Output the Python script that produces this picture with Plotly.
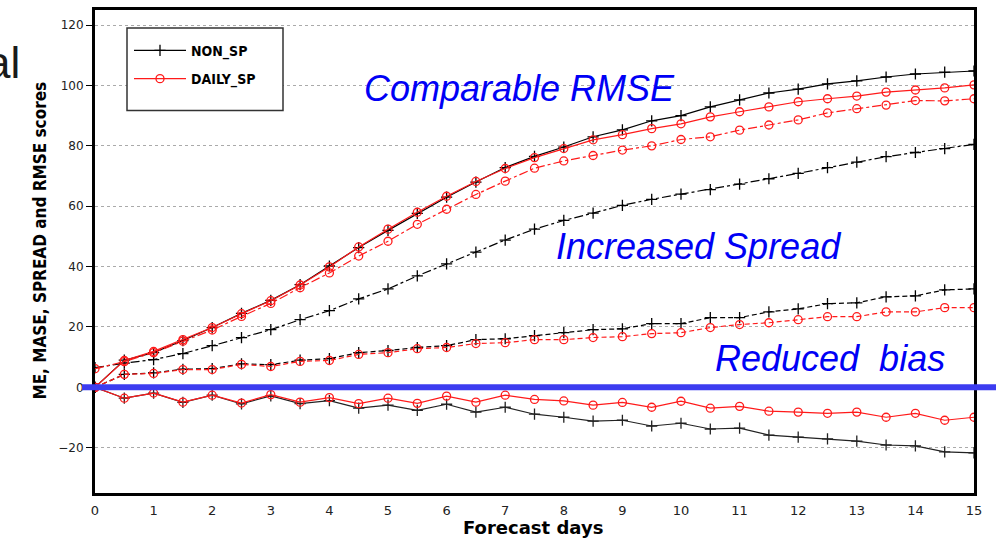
import plotly.graph_objects as go

# Forecast lead times (days)
days = [0, 0.5, 1, 1.5, 2, 2.5, 3, 3.5, 4, 4.5, 5, 5.5, 6, 6.5, 7, 7.5,
        8, 8.5, 9, 9.5, 10, 10.5, 11, 11.5, 12, 12.5, 13, 13.5, 14, 14.5, 15]

# NON_SP scores
non_rmse = [0, 9.0, 11.5, 15.5, 19.8, 24.5, 28.8, 34.0, 40.2, 46.3, 52.0, 57.6, 63.0, 68.0, 72.8, 76.5,
            79.6, 83.0, 85.3, 88.3, 90.0, 92.9, 95.2, 97.5, 98.8, 100.5, 101.5, 102.8, 103.8, 104.4, 104.8]
non_spread = [6.5, 8.0, 9.2, 11.2, 13.8, 16.5, 19.1, 22.4, 25.4, 29.3, 32.6, 36.9, 40.9, 44.8, 48.8, 52.4,
              55.3, 57.7, 60.3, 62.3, 64.0, 65.5, 67.3, 69.1, 70.9, 72.8, 74.6, 76.4, 77.8, 79.1, 80.5]
non_mase = [0, 4.3, 4.8, 6.0, 6.2, 7.8, 7.5, 9.0, 9.5, 11.5, 12.2, 13.2, 13.8, 15.8, 16.1, 17.1,
            18.1, 19.1, 19.4, 21.1, 21.1, 23.1, 23.1, 25.0, 26.0, 27.7, 28.0, 30.0, 30.3, 32.3, 32.6]
non_me = [0, -3.6, -1.9, -5.0, -2.6, -5.5, -2.8, -5.4, -4.4, -6.9, -5.9, -7.6, -5.6, -8.2, -6.6, -8.9,
          -9.9, -11.2, -10.9, -12.8, -11.9, -13.8, -13.5, -15.8, -16.5, -17.1, -17.8, -19.1, -19.4, -21.4, -21.7]

# DAILY_SP scores
daily_rmse = [0, 8.9, 11.9, 15.8, 19.8, 24.4, 28.7, 33.9, 39.9, 46.5, 52.4, 58.0, 63.3, 68.2, 72.5, 76.1,
              79.1, 82.0, 83.7, 85.7, 87.3, 89.6, 91.3, 92.9, 94.6, 95.6, 96.5, 97.8, 98.5, 99.2, 100.2]
daily_spread = [6.2, 8.5, 11.5, 15.3, 19.0, 23.5, 27.8, 33.0, 37.9, 43.5, 48.4, 54.0, 59.0, 63.9, 68.3, 72.6,
                75.0, 76.8, 78.6, 80.0, 82.1, 83.0, 85.2, 86.9, 88.6, 90.9, 92.3, 93.5, 95.0, 94.9, 95.6]
daily_mase = [0, 4.3, 4.6, 5.9, 5.9, 7.6, 6.9, 8.6, 8.9, 10.9, 11.5, 12.8, 13.2, 14.5, 14.8, 15.8,
              15.8, 16.5, 16.8, 17.8, 18.1, 19.8, 20.8, 21.4, 22.4, 23.4, 23.4, 25.0, 25.0, 26.4, 26.4]
daily_me = [0, -3.6, -1.9, -4.9, -2.6, -5.2, -2.4, -4.9, -3.4, -5.4, -3.6, -5.3, -2.9, -4.9, -2.6, -4.0,
            -4.5, -5.9, -5.0, -6.6, -4.6, -6.9, -6.3, -7.9, -8.2, -8.6, -8.2, -9.9, -8.6, -10.9, -9.9]

y_ticks = [-20, 0, 20, 40, 60, 80, 100, 120]
x_ticks = [0, 1, 2, 3, 4, 5, 6, 7, 8, 9, 10, 11, 12, 13, 14, 15]

BLACK = "#000000"
RED = "#ff1a1a"
BLUE_TXT = "#0000f5"
BLUE_LINE = "#3c3cf0"
NARROW = "Liberation Sans Narrow, DejaVu Sans Condensed, Arial Narrow, sans-serif"

fig = go.Figure()

def add(y, color, symbol, dash, name, show):
    fig.add_trace(go.Scatter(
        x=days, y=y, mode="lines+markers", name=name, showlegend=show,
        legendgroup=name,
        line=dict(color=color, width=1.2, dash=dash),
        marker=dict(symbol=symbol, size=8, color=color,
                    line=dict(color=color, width=1.3)),
    ))

# NON_SP (black, +)
add(non_spread, BLACK, "cross-thin-open", "dashdot", "NON_SP", False)
add(non_mase, BLACK, "cross-thin-open", "5px,3px", "NON_SP", False)
add(non_me, "#222222", "cross-thin-open", "solid", "NON_SP", False)
add(non_rmse, BLACK, "cross-thin-open", "solid", "NON_SP", True)
# DAILY_SP (red, o)
add(daily_spread, RED, "circle-open", "dashdot", "DAILY_SP", False)
add(daily_mase, RED, "circle-open", "5px,3px", "DAILY_SP", False)
add(daily_me, RED, "circle-open", "solid", "DAILY_SP", False)
add(daily_rmse, RED, "circle-open", "solid", "DAILY_SP", True)

W, H = 996, 541
L, R, T, B = 95, 22, 7, 48
pw, ph = W - L - R, H - T - B

def px(x):
    return (x - L) / pw

def py(y):
    return (H - B - y) / ph

def note(text, x, y, font, **kw):
    return dict(text=text, xref="paper", yref="paper", x=px(x), y=py(y),
                xanchor=kw.pop("xanchor", "center"), yanchor="middle",
                showarrow=False, font=font, **kw)

blue_font = dict(size=36, color=BLUE_TXT, family="Liberation Sans, Arial", style="italic")

fig.update_layout(
    width=W, height=H,
    margin=dict(l=L, r=R, t=T, b=B, pad=0),
    paper_bgcolor="white", plot_bgcolor="white",
    font=dict(family="Liberation Sans, Arial, sans-serif", color="#222"),
    xaxis=dict(range=[0, 15], tickvals=x_ticks, ticks="", showgrid=False, zeroline=False,
               showline=True, linecolor="black", linewidth=3, mirror=True,
               tickfont=dict(size=13, family="DejaVu Sans, sans-serif", color="#222"), ticklabelstandoff=3),
    yaxis=dict(range=[-35, 125], tickvals=y_ticks, ticks="outside", ticklen=6, tickcolor="black",
               showgrid=True, gridcolor="#aaaaaa", griddash="dot", gridwidth=1, zeroline=False,
               showline=True, linecolor="black", linewidth=3, mirror=True,
               tickfont=dict(size=12, family="DejaVu Sans, sans-serif", color="#222")),
    legend=dict(x=px(129), y=py(32), xanchor="left", yanchor="top",
                bgcolor="rgba(0,0,0,0)", borderwidth=0, itemwidth=52,
                tracegroupgap=7,
                font=dict(size=14, family=NARROW, color="black", weight="bold")),
    shapes=[
        dict(type="rect", xref="paper", yref="paper", x0=px(127), x1=px(283), y0=py(108), y1=py(25),
             fillcolor="white", line=dict(color="#333", width=1.5), layer="above"),
        dict(type="line", xref="paper", yref="y", x0=px(82), x1=px(996), y0=0, y1=0,
             line=dict(color=BLUE_LINE, width=6), layer="above"),
    ],
    annotations=[
        note("Comparable RMSE", 519, 86, blue_font),
        note("Increased Spread", 698, 245, blue_font),
        note("Reduced\u00a0 bias", 830, 358, blue_font),
        note("ME, MASE, SPREAD and RMSE scores", 40, 239,
             dict(size=17, color="black", weight="bold", family=NARROW), textangle=-90),
        note("Forecast days", 533, 528,
             dict(size=18, color="black", weight="bold", family="DejaVu Sans, sans-serif")),
        note("al", 22, 60, dict(size=44, color="#1a1a1a", family="Liberation Sans, Arial"), xanchor="right"),
    ],
)

fig.write_html("out.html")
